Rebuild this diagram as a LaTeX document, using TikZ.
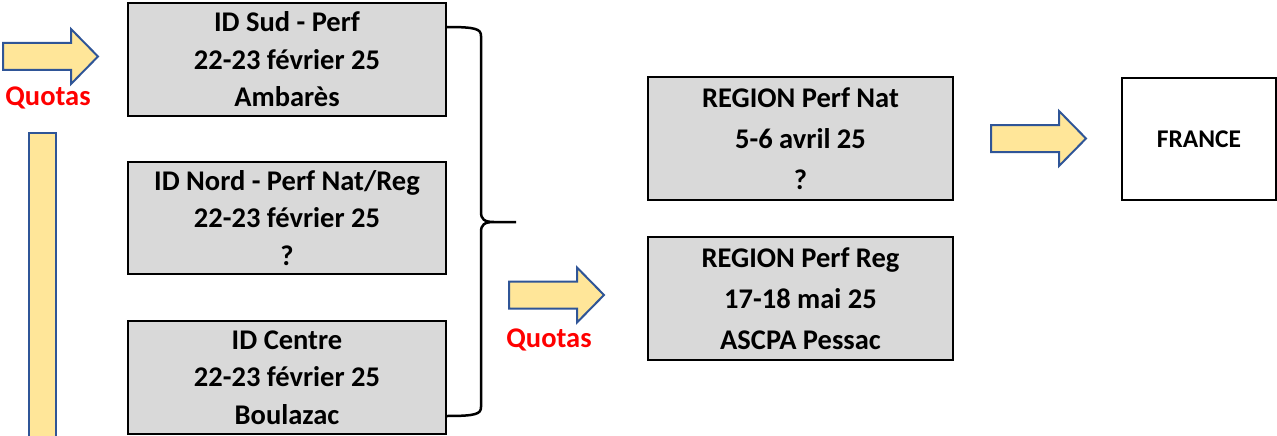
\documentclass[tikz,border=0pt]{standalone}
\usepackage{fontspec}
\setmainfont{Carlito}
\definecolor{boxgray}{HTML}{D9D9D9}
\definecolor{arrowfill}{HTML}{FFE699}
\definecolor{arrowline}{HTML}{2F5597}
\definecolor{quotared}{HTML}{FF0000}
\tikzset{
  evbox/.style={draw=black, line width=2pt, fill=boxgray, rectangle, inner sep=0pt,
    align=center, font=\bfseries\fontsize{28.5}{37.5}\selectfont},
  regbox/.style={evbox, font=\bfseries\fontsize{28.5}{41}\selectfont},
  frbox/.style={draw=black, line width=2pt, fill=white, rectangle, inner sep=0pt,
    align=center, font=\bfseries\fontsize{25.5}{30}\selectfont},
  quotalabel/.style={text=quotared, inner sep=0pt, font=\bfseries\fontsize{28.5}{30}\selectfont},
  arrowshape/.style={fill=arrowfill, draw=arrowline, line width=2pt, line join=miter},
  bracestyle/.style={draw=black, line width=2.5pt},
  blockarrow/.pic={
    \path[arrowshape] (0,-13.5) -- (68,-13.5) -- (68,-27.5) -- (95,0) -- (68,27.5) -- (68,13.5) -- (0,13.5) -- cycle;
  }
}
\begin{document}
\begin{tikzpicture}[x=1pt,y=-1pt]
\useasboundingbox (0,0) rectangle (1277,436);
\clip (0,0) rectangle (1277,436);

% left arrow and quota label
\pic at (3,56.5) {blockarrow};
\node[quotalabel] (q1) at (48,98) {Quotas};

% tall bar
\path[arrowshape] (29,133) rectangle (56,445);

% ID boxes
\node[evbox, minimum width=318, minimum height=113] (sud) at (287,59.5)
  {ID Sud - Perf\\22-23 février 25\\Ambarès};
\node[evbox, minimum width=318, minimum height=112] (nord) at (287,218)
  {ID Nord - Perf Nat/Reg\\22-23 février 25\\?};
\node[evbox, minimum width=318, minimum height=113] (centre) at (287,377.5)
  {ID Centre\\22-23 février 25\\Boulazac};

% brace
\coordinate (bt) at (447,27);
\coordinate (bm) at (516,222);
\coordinate (bb) at (447,416);
\draw[bracestyle] (bt) .. controls (476,27) and (481,29) .. (481,36)
  -- (481,212) .. controls (481,219) and (484,222) .. (494,222) -- (bm)
  (494,222) .. controls (484,222) and (481,225) .. (481,232)
  -- (481,407) .. controls (481,414) and (476,416) .. (bb);

% middle arrow and label
\pic at (509,295) {blockarrow};
\node[quotalabel] (q2) at (549,340) {Quotas};

% region boxes
\node[regbox, minimum width=305, minimum height=123] (nat) at (800.5,138.5)
  {REGION Perf Nat\\5-6 avril 25\\?};
\node[regbox, minimum width=305, minimum height=123] (reg) at (800.5,298.5)
  {REGION Perf Reg\\17-18 mai 25\\ASCPA Pessac};

% right arrow
\pic at (991,138.5) {blockarrow};

% France
\node[frbox, minimum width=154, minimum height=122] (fr) at (1199,139) {FRANCE};
\end{tikzpicture}
\end{document}
